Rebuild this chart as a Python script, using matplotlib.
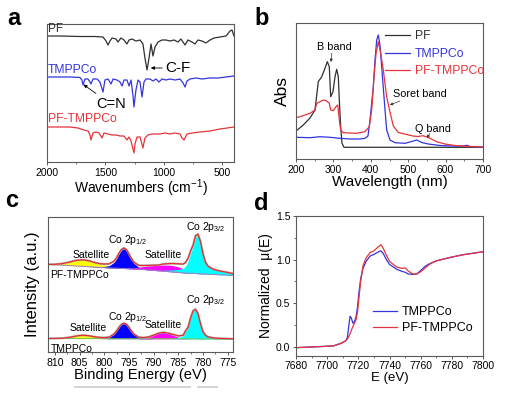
import matplotlib
matplotlib.use('Agg')
import matplotlib.pyplot as plt
from matplotlib.ticker import MultipleLocator, FormatStrFormatter
from matplotlib.lines import Line2D
import numpy as np

plt.rcParams['font.family'] = ['Liberation Sans', 'DejaVu Sans']
plt.rcParams['mathtext.fontset'] = 'custom'
plt.rcParams['mathtext.rm'] = 'Liberation Sans'
plt.rcParams['mathtext.it'] = 'Liberation Sans:italic'

# ---------------- panel a : FTIR (offset, arbitrary units)
a_pf_wn = [2000, 1889, 1718, 1589, 1521, 1495, 1478, 1461, 1444, 1410, 1393, 1367, 1341, 1316, 1298,
           1273, 1239, 1204, 1179, 1162, 1144, 1127, 1110, 1093, 1076, 1050, 1016, 982, 948, 913,
           879, 854, 819, 794, 759, 734, 708, 674, 640, 605, 571, 520, 468, 434, 417, 400]
a_pf_y = [126, 126, 125.5, 125.5, 125, 121, 117, 121, 124, 123, 120, 124, 122, 118, 122,
          123, 121, 122, 118, 104, 92, 104, 118, 106, 115, 120, 122, 122, 121, 122,
          120, 123, 117, 122, 120, 118, 122, 121, 119, 122, 124, 125, 126, 131, 132, 126]
a_tm_wn = [2000, 1803, 1718, 1701, 1692, 1675, 1649, 1632, 1624, 1606, 1572, 1547, 1521, 1504, 1478,
           1452, 1435, 1401, 1375, 1358, 1341, 1316, 1298, 1281, 1264, 1256, 1239, 1221, 1204, 1187,
           1170, 1153, 1119, 1093, 1067, 1042, 1016, 982, 948, 905, 862, 836, 819, 802, 777,
           725, 674, 605, 537, 468, 400]
a_tm_y = [85, 85, 84.5, 82, 77, 83, 83, 80, 78, 83, 83, 80, 70, 82, 83,
          78, 83, 82, 80, 76, 82, 82, 76, 82, 66, 55, 72, 82, 80, 65,
          80, 83, 83, 81, 83, 80, 83, 82, 83, 82, 83, 79, 75, 81, 83,
          84, 83, 84, 84, 85, 86]
a_pt_wn = [2000, 1803, 1735, 1683, 1649, 1632, 1624, 1606, 1581, 1555, 1529, 1512, 1478, 1444, 1410,
           1375, 1341, 1316, 1298, 1281, 1256, 1247, 1230, 1204, 1179, 1162, 1136, 1102, 1067, 1033,
           990, 948, 905, 862, 845, 828, 802, 759, 691, 605, 520, 400]
a_pt_y = [35, 35, 34, 32, 31, 27, 22, 29, 30, 29, 24, 29, 28, 27, 27,
          26, 26, 22, 25, 21, 9, 18, 25, 25, 14, 24, 27, 28, 28, 28,
          29, 28, 29, 28, 24, 22, 28, 29, 30, 31, 33, 35]

# ---------------- panel b : UV-vis
b_pf_wl = [200, 219.5, 237.4, 250.8, 259.6, 268.7, 277.5, 283.7, 289, 292.8, 298.9, 304.3, 308.8,
           313.1, 315.8, 319.5, 323, 328.3, 371, 700]
b_pf_y = [28, 34, 41, 49, 77.3, 82.3, 90.7, 97.3, 92.3, 62.3, 67.3, 82.3, 89.7,
          82.3, 59, 32.3, 15.7, 11.7, 11.7, 11.7]
b_tm_wl = [200, 237.4, 264.2, 291, 317.6, 344.4, 371, 384.5, 392.5, 397.9, 406.7, 411.2, 415.8, 420,
           424.6, 431.8, 438, 442.5, 451.3, 464.7, 491.4, 509.4, 522.7, 536, 553.7, 585, 616.3,
           643.9, 656.4, 668, 700]
b_tm_y = [21.7, 21.3, 22.3, 21.7, 20.7, 20, 20, 20.7, 23, 39, 72.3, 99, 119, 124,
          114, 79, 49, 29, 19, 16.3, 15.7, 17.5, 19, 16.5, 15, 13.5, 13,
          12.8, 13.7, 12.3, 11.7]
b_pt_wl = [200, 210.7, 224, 237.4, 250.8, 255.3, 264.2, 273, 282, 289, 292.8, 299.7, 307, 311.5,
           315.8, 319.5, 326.5, 362.3, 384.5, 396, 402.4, 408.6, 414, 420, 426.5, 433.4, 442.5,
           451.3, 460.2, 473.5, 496, 512.8, 526, 539.6, 553.7, 576, 598.4, 625, 665, 700]
b_pt_y = [41.3, 42.3, 44, 45.7, 49, 55.7, 57.3, 59, 58, 55.7, 49, 48.3, 52.3, 54,
          39, 29, 26.3, 25.7, 27.3, 32.3, 49, 82.3, 105.7, 117.3, 105.7, 89, 62,
          47, 33, 26.5, 24.5, 23, 22.5, 23.3, 21.5, 17.3, 15, 13.5, 12.5, 12]

# ---------------- panel c : XPS Co 2p (fit components above background)
c_be = [811.5, 810, 808.5, 807, 806, 805, 804, 803, 802, 801, 800, 799, 798, 797.5, 797, 796.5,
        796, 795.5, 795, 794.5, 794, 793, 792, 791, 790, 789, 788, 787, 786, 785, 784, 783.5,
        783, 782.5, 782, 781.5, 781, 780.5, 780, 779.5, 779, 778, 777, 776, 775, 774]
c_up_bg = [87.5, 87.2, 86.8, 86.4, 86.1, 85.8, 85.6, 85.3, 85.0, 84.7, 84.4, 84.1, 83.9, 83.8, 83.7, 83.6,
           83.5, 83.4, 83.3, 83.2, 83.1, 82.8, 82.5, 82.1, 81.7, 81.2, 80.8, 80.4, 80.0, 79.6, 79.1, 78.9,
           78.8, 78.7, 78.6, 78.5, 78.3, 78.2, 78.1, 78.0, 77.8, 77.6, 77.3, 77.0, 76.8, 76.5]
c_up_sat1 = [0.1, 0.5, 1.6, 3.6, 5.2, 6.2, 6.5, 5.7, 4.3, 3.2, 2.4, 1.8, 1.2, 0.9, 0.6, 0.4,
             0.2, 0.1, 0, 0, 0, 0, 0, 0, 0, 0, 0, 0, 0, 0, 0, 0,
             0, 0, 0, 0, 0, 0, 0, 0, 0, 0, 0, 0, 0, 0]
c_up_p12 = [0, 0, 0, 0, 0, 0, 0, 0.1, 0.3, 0.5, 1.2, 2.2, 5.8, 9.5, 14.4, 18.4,
            20, 18.4, 14.4, 9.5, 5.8, 1.8, 1.0, 0.5, 0.3, 0.1, 0, 0, 0, 0, 0, 0,
            0, 0, 0, 0, 0, 0, 0, 0, 0, 0, 0, 0, 0, 0]
c_up_sat2 = [0, 0, 0, 0, 0, 0, 0, 0, 0, 0, 0, 0, 0, 0, 0.1, 0.2,
             0.3, 0.4, 0.5, 0.7, 1.0, 2.0, 3.0, 4.0, 4.8, 5.6, 6.2, 6.5, 6.3, 5.6, 4.3, 3.6,
             2.9, 2.2, 1.6, 1.2, 0.9, 0.6, 0.4, 0.3, 0.2, 0.1, 0, 0, 0, 0]
c_up_p32 = [0, 0, 0, 0, 0, 0, 0, 0, 0, 0, 0, 0, 0, 0, 0, 0,
            0, 0, 0, 0, 0, 0, 0, 0, 0, 0, 1.0, 1.5, 2.2, 3.0, 4.5, 7.1,
            12, 20, 26.5, 36.5, 38.6, 32, 20, 11.8, 8.0, 5.3, 4.2, 3.5, 2.8, 2.0]
c_lo_bg = [13.5, 13.5, 13.5, 13.5, 13.5, 13.4, 13.4, 13.4, 13.4, 13.4, 13.4, 13.3, 13.3, 13.3, 13.3, 13.3,
           13.3, 13.3, 13.3, 13.3, 13.3, 13.3, 13.2, 13.2, 13.2, 13.2, 13.2, 13.2, 13.2, 13.2, 13.1, 13.1,
           13.1, 13.1, 13.1, 13.1, 13.0, 13.0, 13.0, 13.0, 13.0, 13.0, 13.0, 13.0, 13.0, 13.0]
c_lo_sat1 = [0, 0.1, 0.3, 1.2, 2.2, 3.1, 3.3, 2.8, 1.8, 0.9, 0.4, 0.2, 0.1, 0, 0, 0,
             0, 0, 0, 0, 0, 0, 0, 0, 0, 0, 0, 0, 0, 0, 0, 0,
             0, 0, 0, 0, 0, 0, 0, 0, 0, 0, 0, 0, 0, 0]
c_lo_p12 = [0, 0, 0, 0, 0, 0, 0, 0, 0, 0.3, 0.6, 1.4, 4.6, 7.8, 11.5, 14.4,
            15.5, 14.4, 11.5, 7.8, 4.6, 1.4, 0.6, 0.3, 0.1, 0, 0, 0, 0, 0, 0, 0,
            0, 0, 0, 0, 0, 0, 0, 0, 0, 0, 0, 0, 0, 0]
c_lo_sat2 = [0, 0, 0, 0, 0, 0, 0, 0, 0, 0, 0, 0, 0, 0, 0, 0,
             0, 0, 0, 0, 0, 0.15, 0.55, 1.6, 3.5, 5.6, 6.5, 5.6, 3.5, 1.6, 0.55, 0.3,
             0.15, 0, 0, 0, 0, 0, 0, 0, 0, 0, 0, 0, 0, 0]
c_lo_p32 = [0, 0, 0, 0, 0, 0, 0, 0, 0, 0, 0, 0, 0, 0, 0, 0,
            0, 0, 0, 0, 0, 0, 0, 0, 0, 0, 0, 0, 0.8, 1.3, 3.0, 8.0,
            11.5, 21, 28, 29.7, 25.5, 15.5, 7.5, 4.0, 2.2, 1.2, 0.7, 0.5, 0.3, 0.2]

# ---------------- panel d : XANES
d_E = [7680, 7693, 7704, 7709, 7712, 7713, 7714, 7714.7, 7715.5, 7716.5, 7717.5, 7718.5, 7719.5,
       7720.5, 7721.5, 7723, 7725, 7727.5, 7730, 7733, 7734.5, 7736, 7738, 7740, 7744.5, 7748,
       7750, 7752, 7755, 7757.5, 7760, 7763, 7766, 7770, 7779, 7787, 7800]
d_tm = [-0.01, 0.0, 0.01, 0.04, 0.07, 0.11, 0.26, 0.35, 0.33, 0.27, 0.29, 0.34, 0.46,
        0.64, 0.78, 0.90, 0.98, 1.04, 1.06, 1.09, 1.10, 1.07, 1.00, 0.945, 0.89, 0.865,
        0.855, 0.835, 0.83, 0.835, 0.875, 0.925, 0.955, 0.985, 1.025, 1.055, 1.09]
d_pt = [-0.01, 0.0, 0.01, 0.04, 0.07, 0.09, 0.12, 0.15, 0.19, 0.23, 0.27, 0.31, 0.40,
        0.58, 0.75, 0.93, 1.02, 1.08, 1.10, 1.15, 1.17, 1.13, 1.05, 0.98, 0.915, 0.90,
        0.905, 0.87, 0.835, 0.835, 0.86, 0.905, 0.95, 0.985, 1.025, 1.055, 1.09]

labels = ['PF', 'TMPPCo', 'PF-TMPPCo']
C_BLACK = '#303030'
C_BLUE = '#3434e0'
C_RED = '#e6343a'
SPINE = '#5a5a5a'
TICK_FS = 7.5

W, H = 505, 396
fig = plt.figure(figsize=(W / 100, H / 100), dpi=100)


def box(l, t, r, b):
    return [l / W, 1 - b / H, (r - l) / W, (b - t) / H]


def style(ax):
    for s in ax.spines.values():
        s.set_color(SPINE)
        s.set_linewidth(0.8)
    ax.tick_params(direction='out', length=2.5, width=0.7, color=SPINE, labelsize=TICK_FS, pad=1.5,
                   top=False, right=False)
    ax.tick_params(which='minor', direction='out', length=1.5, width=0.6, color=SPINE)


# ---- a
ax = fig.add_axes(box(47, 24, 234, 162))
ax.plot(a_pf_wn, a_pf_y, color=C_BLACK, lw=0.9)
ax.plot(a_tm_wn, a_tm_y, color=C_BLUE, lw=0.9)
ax.plot(a_pt_wn, a_pt_y, color=C_RED, lw=0.9)
ax.set_xlim(2000, 400)
ax.set_ylim(0, 138)
ax.set_yticks([])
ax.xaxis.set_major_locator(MultipleLocator(500))
ax.xaxis.set_minor_locator(MultipleLocator(250))
style(ax)
ax.set_xlabel('Wavenumbers (cm$^{-1}$)', fontsize=10, labelpad=0)
ax.text(1990, 133, labels[0], color=C_BLACK, fontsize=8.5, va='center', ha='left')
ax.text(1995, 92, labels[1], color=C_BLUE, fontsize=8.7, va='center', ha='left')
ax.text(1995, 43.5, labels[2], color=C_RED, fontsize=8.7, va='center', ha='left')
ax.annotate('C-F', xy=(1112, 94), xytext=(990, 94), fontsize=11, va='center', ha='left',
            arrowprops=dict(arrowstyle='-|>', color='black', lw=0.6, mutation_scale=5, shrinkA=0, shrinkB=0))
ax.annotate('C=N', xy=(1688, 77.5), xytext=(1455, 58), fontsize=10.5, va='center', ha='center',
            arrowprops=dict(arrowstyle='-|>', color='black', lw=0.6, mutation_scale=5, shrinkA=1, shrinkB=0))

# ---- b
ax = fig.add_axes(box(296, 23, 483, 159))
ax.plot(b_pf_wl, b_pf_y, color=C_BLACK, lw=0.9, label=labels[0])
ax.plot(b_tm_wl, b_tm_y, color=C_BLUE, lw=0.9, label=labels[1])
ax.plot(b_pt_wl, b_pt_y, color=C_RED, lw=0.9, label=labels[2])
ax.set_xlim(200, 700)
ax.set_ylim(0, 136)
ax.set_yticks([])
ax.xaxis.set_major_locator(MultipleLocator(100))
ax.xaxis.set_minor_locator(MultipleLocator(50))
style(ax)
ax.set_xlabel('Wavelength (nm)', fontsize=11, labelpad=0)
ax.set_ylabel('Abs', fontsize=12.5, labelpad=4)
ax.legend(loc='upper left', bbox_to_anchor=(0.476, 0.945), frameon=False, fontsize=8.8,
          handlelength=2.05, handletextpad=0.4, labelspacing=0.45, borderaxespad=0, borderpad=0,
          labelcolor='linecolor')
arr = dict(arrowstyle='-|>', color='#333333', lw=0.5, mutation_scale=4, shrinkA=0, shrinkB=0)
ax.text(302, 112, 'B band', fontsize=7.8, ha='center', va='center')
ax.annotate('', xy=(293.5, 97), xytext=(296, 106), arrowprops=arr)
ax.text(532, 65, 'Soret band', fontsize=7.8, ha='center', va='center')
ax.annotate('', xy=(451, 54), xytext=(478, 58), arrowprops=arr)
ax.text(566, 30, 'Q band', fontsize=7.8, ha='center', va='center')
ax.annotate('', xy=(550, 21), xytext=(558, 25.5), arrowprops=arr)

# ---- c
ax = fig.add_axes(box(48, 217, 233, 352))
be = np.array(c_be)
comp_cols = ['#ffff00', '#0000ff', '#ff00ff', '#00ffff']
for bg, comps, bgcol in [(c_up_bg, [c_up_sat1, c_up_p12, c_up_sat2, c_up_p32], '#9a7fc8'),
                         (c_lo_bg, [c_lo_sat1, c_lo_p12, c_lo_sat2, c_lo_p32], '#7cc24a')]:
    bg = np.array(bg)
    total = bg.copy()
    for comp, col in zip(comps, comp_cols):
        top = bg + np.array(comp)
        ax.fill_between(be, bg, top, where=np.array(comp) > 0, color=col, lw=0, interpolate=False)
        total = total + np.array(comp)
    ax.plot(be, bg, color=bgcol, lw=0.7)
    ax.plot(be, total, color='#a0a0a0', lw=1.6, alpha=0.8)
    ax.plot(be, total, color='#e82828', lw=0.8)
ax.set_xlim(811.4, 773.9)
ax.set_ylim(0, 135)
ax.set_yticks([])
ax.xaxis.set_major_locator(MultipleLocator(5))
ax.xaxis.set_minor_locator(MultipleLocator(2.5))
style(ax)
ax.set_xlabel('Binding Energy (eV)', fontsize=10.6, labelpad=0)
ax.set_ylabel('Intensity (a.u.)', fontsize=12, labelpad=6)
tfs = 7.5
ax.text(795.2, 112, 'Co 2p$_{1/2}$', fontsize=tfs, ha='center', va='center')
ax.text(779.4, 125, 'Co 2p$_{3/2}$', fontsize=tfs, ha='center', va='center')
ax.text(802.7, 96.5, 'Satellite', fontsize=tfs, ha='center', va='center')
ax.text(788.0, 96.5, 'Satellite', fontsize=tfs, ha='center', va='center')
ax.text(810.9, 76.5, labels[2], fontsize=tfs, ha='left', va='center')
ax.text(795.2, 35, 'Co 2p$_{1/2}$', fontsize=tfs, ha='center', va='center')
ax.text(779.4, 52, 'Co 2p$_{3/2}$', fontsize=tfs, ha='center', va='center')
ax.text(803.3, 24, 'Satellite', fontsize=tfs, ha='center', va='center')
ax.text(788.0, 27.5, 'Satellite', fontsize=tfs, ha='center', va='center')
ax.text(810.9, 3.5, labels[1], fontsize=tfs, ha='left', va='center')

# ---- d
ax = fig.add_axes(box(296, 216, 483, 355.5))
ax.plot(d_E, d_tm, color=C_BLUE, lw=0.9, label=labels[1])
ax.plot(d_E, d_pt, color=C_RED, lw=0.9, label=labels[2])
ax.set_xlim(7680, 7800)
ax.set_ylim(-0.1, 1.5)
ax.xaxis.set_major_locator(MultipleLocator(20))
ax.xaxis.set_minor_locator(MultipleLocator(10))
ax.yaxis.set_major_locator(MultipleLocator(0.5))
ax.yaxis.set_minor_locator(MultipleLocator(0.25))
ax.yaxis.set_major_formatter(FormatStrFormatter('%.1f'))
style(ax)
ax.set_xlabel('E (eV)', fontsize=9.5, labelpad=1)
ax.set_ylabel('Normalized  μ(E)', fontsize=10, labelpad=2)
ax.legend(loc='upper left', bbox_to_anchor=(0.412, 0.355), frameon=False, fontsize=9,
          handlelength=1.9, handletextpad=0.4, labelspacing=0.32, borderaxespad=0, borderpad=0)

# panel letters
for letter, x, y in [('a', 7, 25), ('b', 254, 25), ('c', 5, 207), ('d', 254, 210)]:
    fig.text(x / W, 1 - y / H, letter, fontsize=17, fontweight='bold', va='baseline', ha='left')

# faint scan artefact under panel c
fig.add_artist(Line2D([75 / W, 190 / W], [1 - 387 / H, 1 - 387 / H], color='#d4d4d4', lw=1.4))
fig.add_artist(Line2D([198 / W, 217 / W], [1 - 387 / H, 1 - 387 / H], color='#d4d4d4', lw=1.4))

fig.savefig('out.png', dpi=100)
